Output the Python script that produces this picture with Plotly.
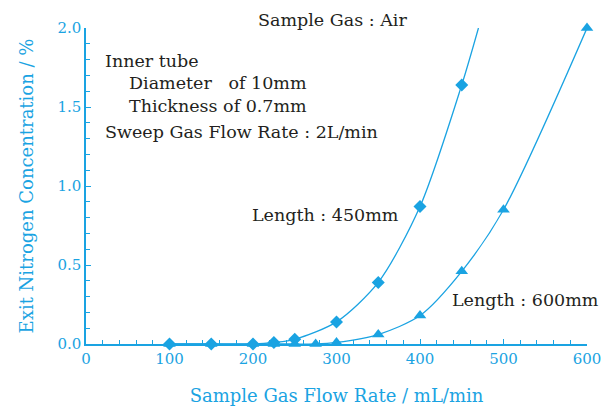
import plotly.graph_objects as go

# Exit nitrogen concentration vs sample gas flow rate, two inner-tube lengths
flow_450 = [100, 150, 200, 225, 250, 300, 350, 400, 450]
conc_450 = [0.0, 0.0, 0.0, 0.01, 0.03, 0.14, 0.39, 0.87, 1.64]
# fitted curve continues past the last measured point up to the top of the axis
curve_flow_450 = flow_450 + [470]
curve_conc_450 = conc_450 + [2.0]

flow_600 = [100, 150, 200, 225, 250, 275, 300, 350, 400, 450, 500, 600]
conc_600 = [0.0, 0.0, 0.0, 0.0, 0.0, 0.0, 0.01, 0.06, 0.18, 0.46, 0.85, 2.0]

x_ticks = [0, 100, 200, 300, 400, 500, 600]
y_ticks = [0.0, 0.5, 1.0, 1.5, 2.0]

CYAN = "#1aa3e2"
INK = "#231f20"
SERIF = "DejaVu Serif, Liberation Serif, serif"

fig = go.Figure()

fig.add_trace(go.Scatter(
    x=curve_flow_450, y=curve_conc_450, mode="lines",
    line=dict(color=CYAN, width=1.3, shape="spline", smoothing=0.8),
    cliponaxis=False, hoverinfo="skip", showlegend=False))
fig.add_trace(go.Scatter(
    x=flow_600, y=conc_600, mode="lines",
    line=dict(color=CYAN, width=1.3, shape="spline", smoothing=0.8),
    cliponaxis=False, hoverinfo="skip", showlegend=False))
fig.add_trace(go.Scatter(
    x=flow_450, y=conc_450, mode="markers",
    marker=dict(symbol="diamond", size=10, color=CYAN),
    cliponaxis=False, name="Length : 450mm", showlegend=False))
fig.add_trace(go.Scatter(
    x=flow_600, y=conc_600, mode="markers",
    marker=dict(symbol="triangle-up", size=11, color=CYAN),
    cliponaxis=False, name="Length : 600mm", showlegend=False))

text_font = dict(family=SERIF, size=17.5, color=INK)

def note(x, y, text, xanchor="left"):
    fig.add_annotation(x=x, y=y, xref="paper", yref="paper", text=text,
                       showarrow=False, xanchor=xanchor, yanchor="middle",
                       font=text_font)

# paper coordinates: plot area spans x 86..587 px, y 28..344 px
def px(xp):
    return (xp - 86) / (587 - 86)

def py(yp):
    return (344 - yp) / (344 - 28)

note(px(332), py(20), "Sample Gas : Air", xanchor="center")
note(px(103), py(61), "Inner tube")
note(px(127), py(83), "Diameter&nbsp;&nbsp;&nbsp;of 10mm")
note(px(127), py(106), "Thickness of 0.7mm")
note(px(103), py(132), "Sweep Gas Flow Rate : 2L/min")
note(px(250), py(215), "Length : 450mm")
note(px(450), py(300), "Length : 600mm")

axis_font = dict(family=SERIF, size=15, color=CYAN)
title_font = dict(family=SERIF, size=18, color=CYAN)

fig.update_layout(
    width=609, height=409,
    margin=dict(l=86, r=22, t=28, b=65, autoexpand=False),
    paper_bgcolor="white", plot_bgcolor="white",
    xaxis=dict(
        range=[0, 600], tickvals=x_ticks, ticktext=[str(v) for v in x_ticks],
        automargin=False,
        showgrid=False, zeroline=False, showline=True, linecolor=CYAN, linewidth=1.5,
        ticks="inside", ticklen=5, tickcolor=CYAN, tickwidth=1,
        minor=dict(dtick=20, ticks="inside", ticklen=4, tickcolor=CYAN, showgrid=False),
        tickfont=axis_font,
        title=dict(text="Sample Gas Flow Rate / mL/min", font=title_font, standoff=23),
    ),
    yaxis=dict(
        range=[0, 2.0], tickvals=y_ticks, ticktext=[f"{v:.1f}" for v in y_ticks],
        automargin=False,
        showgrid=False, zeroline=False, showline=True, linecolor=CYAN, linewidth=1.5,
        ticks="inside", ticklen=5, tickcolor=CYAN, tickwidth=1,
        minor=dict(dtick=0.1, ticks="inside", ticklen=4, tickcolor=CYAN, showgrid=False),
        tickfont=axis_font,
        title=dict(text="Exit Nitrogen Concentration / %", font=title_font, standoff=19),
    ),
)

fig.write_html("out.html")
